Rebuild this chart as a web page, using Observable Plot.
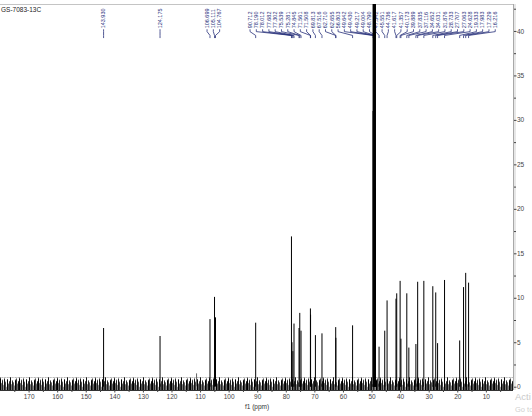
<!DOCTYPE html>
<html><head><meta charset="utf-8">
<script src="https://cdn.jsdelivr.net/npm/d3@7"></script>
<script src="https://cdn.jsdelivr.net/npm/@observablehq/plot@0.6"></script>
<style>
html,body{margin:0;padding:0;background:#fff;overflow:hidden}
#chart{position:relative;width:532px;height:416px}
</style></head><body><div id="chart"></div>
<script>
// ---- data ----
const title = "GS-7083-13C";
const xLabel = "f1 (ppm)";
const xTicks = [170,160,150,140,130,120,110,100,90,80,70,60,50,40,30,20,10];
const xMinorTicks = [175,165,155,145,135,125,115,105,95,85,75,65,55,45,35,25,15,5];
const yTicks = [0,5,10,15,20,25,30,35,40];
const yMinorTicks = [2.5,7.5,12.5,17.5,22.5,27.5,32.5,37.5,42.5];
const peakLabels = ["143.930","124.175","106.699","105.111","104.767","90.712",
  "78.190","78.012","77.682","77.302","75.539","75.281","74.845","71.561","71.508",
  "69.813","67.516","62.710","62.655","56.803","49.642","49.430","49.217","49.004",
  "48.790","47.542","45.551","44.736","41.617","41.357","40.173","39.889","37.835",
  "37.116","34.652","34.031","31.876","28.733","27.707","27.063","24.628","19.333",
  "17.983","17.229","16.216"];
const peakHeights = [6.6,5.7,7.6,10.1,7.8,7.2,
  16.9,5.0,4.0,7.1,6.6,8.3,6.3,8.8,8.1,
  5.8,6.0,6.7,5.5,6.9,31,200,200,200,
  22.3,4.5,6.3,9.7,9.9,10.5,11.9,5.4,10.5,
  4.4,4.8,11.8,11.9,11.3,10.6,4.9,12.0,5.2,
  11.2,12.8,11.7];
const extraShifts = [111.4];
const extraHeights = [1.5];
const watermark = ["Acti", "Go to"];

// ---- derived ----
const xDomain = [180, 0.5];
const yDomain = [-0.37, 43.03];
const noiseBand = [-0.37, 1.05];
const peaks = peakLabels.map((s, i) => ({label: s, ppm: +s, h: peakHeights[i]}));
const extras = extraShifts.map((p, i) => ({ppm: p, h: extraHeights[i]}));

// spread labels (in ppm units) so they do not overlap
const gapPpm = 2.2;
let clusters = peaks.slice().sort((a, b) => b.ppm - a.ppm).map(p => ({items: [p], c: p.ppm}));
let merged = true;
while (merged) {
  merged = false;
  for (let i = 1; i < clusters.length; i++) {
    const a = clusters[i - 1], b = clusters[i];
    const aEnd = a.c - (a.items.length - 1) / 2 * gapPpm;
    const bStart = b.c + (b.items.length - 1) / 2 * gapPpm;
    if (aEnd - bStart < gapPpm) {
      const items = a.items.concat(b.items);
      clusters.splice(i - 1, 2, {items, c: d3.mean(items, d => d.ppm)});
      merged = true; break;
    }
  }
}
clusters.forEach(cl => {
  const n = cl.items.length;
  cl.items.forEach((p, j) => { p.slot = cl.c + ((n - 1) / 2 - j) * gapPpm; });
});
const textY = 40.35;
const links = [];
peaks.forEach(p => {
  links.push({k: p.label, x: p.slot, y: 40.2});
  links.push({k: p.label, x: p.slot, y: 39.98});
  links.push({k: p.label, x: p.ppm, y: 39.55});
  links.push({k: p.label, x: p.ppm, y: 39.3});
});

const navy = "#27307a";
const font = "Liberation Sans, Arial, sans-serif";

const chart = Plot.plot({
  width: 532, height: 416,
  marginLeft: 0, marginRight: 19, marginTop: 4, marginBottom: 26,
  style: {fontFamily: font, fontSize: "6.5px", background: "#fff", overflow: "hidden"},
  x: {domain: xDomain, axis: null},
  y: {domain: yDomain, axis: null, clamp: true},
  marks: [
    Plot.areaY(xDomain, {x: d => d, y1: noiseBand[0], y2: noiseBand[1], fill: "url(#noise)"}),
    Plot.ruleY([yDomain[1]], {stroke: "#c4c4c4"}),
    Plot.ruleX([xDomain[1]], {stroke: "#a8a8a8"}),
    Plot.ruleX([xDomain[1]], {stroke: "#cfcfcf", dx: 1.5}),
    Plot.ruleY([yDomain[0]], {stroke: "#333"}),
    Plot.axisX(xTicks, {anchor: "bottom", tickSize: 2.5, tickPadding: 1, color: "#444", fontSize: 6.5, label: null}),
    Plot.axisX(xMinorTicks, {anchor: "bottom", tickSize: 2, tickFormat: () => "", color: "#444", label: null}),
    Plot.axisY(yTicks, {anchor: "right", tickSize: 2.5, tickPadding: 1, color: "#444", fontSize: 6.5, label: null}),
    Plot.axisY(yMinorTicks, {anchor: "right", tickSize: 2, tickFormat: () => "", color: "#444", label: null}),
    Plot.text([xLabel], {text: d => d, frameAnchor: "bottom", dy: 18.5, fill: "#333", fontSize: 6.5}),
    Plot.text([title], {text: d => d, frameAnchor: "top-left", dx: 0.5, dy: 3, textAnchor: "start", lineAnchor: "top", fill: "#222", fontSize: 6.5}),
    Plot.line(links, {x: "x", y: "y", z: "k", stroke: navy, strokeWidth: 0.8}),
    Plot.text(peaks, {x: "slot", y: textY, text: "label", rotate: -90, textAnchor: "start", lineAnchor: "middle", fill: navy, fontSize: 5.5}),
    Plot.ruleX(extras, {x: "ppm", y1: 0, y2: "h", stroke: "#555", strokeWidth: 0.9}),
    Plot.ruleX(peaks, {x: "ppm", y1: 0, y2: "h", stroke: "#000", strokeWidth: d => d.h > 100 ? 2.2 : 1}),
    Plot.text([watermark[0]], {text: d => d, frameAnchor: "bottom-right", dx: 1.5, dy: 9, textAnchor: "start", fill: "#c9c9c9", fontSize: 9.5}),
    Plot.text([watermark[1]], {text: d => d, frameAnchor: "bottom-right", dx: 1.5, dy: 21, textAnchor: "start", fill: "#d0d0d0", fontSize: 7.5})
  ]
});

// noise texture (style only)
const yS = chart.scale("y");
const yTop = yS.apply(noiseBand[1]), yBot = yS.apply(noiseBand[0]);
const hBand = yBot - yTop;
const tops = [0.05,0.45,0.2,0.6,0.1,0.35,0.75,0.15,0.5,0.3,0.0,0.55,0.25,0.4,0.65,0.2,0.1,0.5,0.3];
const shades = ["#000","#666","#222","#888","#111","#444","#999","#000","#555","#333","#111","#777","#222","#555","#888","#000","#333","#666","#111"];
const defs = d3.select(chart).insert("defs", ":first-child");
const pat = defs.append("pattern").attr("id", "noise").attr("patternUnits", "userSpaceOnUse")
  .attr("x", 0).attr("y", yTop).attr("width", tops.length).attr("height", hBand);
pat.append("rect").attr("width", tops.length).attr("height", hBand).attr("fill", "#fff");
tops.forEach((t, i) => {
  pat.append("rect").attr("x", i).attr("y", t * hBand).attr("width", 1)
    .attr("height", hBand * (1 - t)).attr("fill", shades[i]);
});
document.getElementById("chart").appendChild(chart);
</script></body></html>
